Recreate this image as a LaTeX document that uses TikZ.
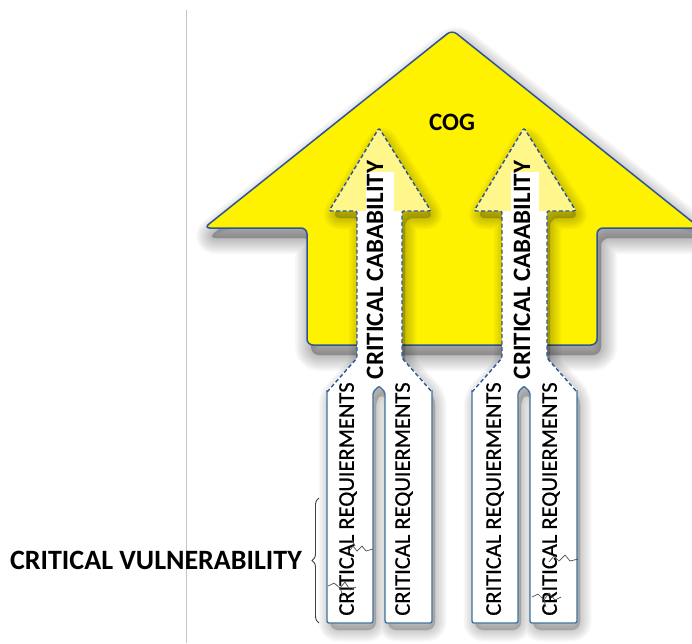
\documentclass[tikz,border=0pt]{standalone}
\usepackage{fontspec}
\setmainfont{Carlito}
\newfontfamily\reqfont[FakeBold=0.6]{Carlito}
\usetikzlibrary{shadows,decorations.pathreplacing}
\definecolor{cogyellow}{HTML}{FFF200}
\definecolor{edgeblue}{HTML}{2F5496}
\definecolor{colblue}{HTML}{41719C}
\definecolor{headyellow}{HTML}{FFF68C}
\newcommand{\housepath}{(452,30) -- (700,228) -- (597,228) -- (597,345) -- (307,345) -- (307,228) -- (204,228) -- cycle}
\newcommand{\innerpath}{(379,128) -- (431,211) -- (402,211) -- (402,358) -- (432,390) -- (432,623) -- (385,623) -- (385,392) -- (379,386) -- (373,392) -- (373,623) -- (327,623) -- (327,390) -- (357,358) -- (357,211) -- (329,211) -- cycle}
\tikzset{
  house/.style={draw=edgeblue, line width=1.5pt, fill=cogyellow, rounded corners=6pt},
  blurlayer/.style={fill=black, draw=black, line width=#1, opacity=0.026, rounded corners=8pt, line join=round},
  dashedge/.style={draw=edgeblue, line width=1.4pt, dash pattern=on 4pt off 2.5pt},
  coledge/.style={draw=colblue, line width=1.4pt},
  capatext/.style={rotate=90, font=\bfseries\fontsize{25}{28}\selectfont, inner sep=0pt},
  reqtext/.style={rotate=90, font=\reqfont\fontsize{22.5}{26}\selectfont, inner sep=0pt},
  crack/.style={draw=black!70, line width=0.7pt},
}
\begin{document}
\begin{tikzpicture}[x=1pt,y=-1pt]
\useasboundingbox (0,0) rectangle (692,643);
\clip (0,0) rectangle (692,643);
\draw[gray!45, line width=0.9pt] (186,10) -- (186,643);
% soft shadow of the house
\begin{scope}[shift={(4pt,-10pt)}]
  \foreach \w in {2,5,...,32}{ \path[blurlayer=\w pt] \housepath; }
\end{scope}
% house arrow
\path[house] \housepath;
\node (cog) at (452,122) {\bfseries\fontsize{25}{30}\selectfont COG};
% two inner arrows
\foreach \dx in {0,145}{
\begin{scope}[xshift=\dx pt]
  \begin{scope}[shift={(3pt,-7pt)}]
    \foreach \w in {2,5,...,23}{ \path[blurlayer=\w pt] \innerpath; }
  \end{scope}
  \fill[white] \innerpath;
  \fill[headyellow] (379,128) -- (431,211) -- (329,211) -- cycle;
  \fill[white] (366,172) rectangle (394,215);
  \path[dashedge, rounded corners=2pt] (327,392) -- (357,358) -- (357,211) -- (329,211) -- (379,128) -- (431,211) -- (402,211) -- (402,358) -- (432,392);
  \path[coledge, rounded corners=2pt] (327,390) -- (327,623) -- (373,623) -- (373,392) -- (379,386) -- (385,392) -- (385,623) -- (432,623) -- (432,390);
\end{scope}
}
\node[capatext] (capa) at (375,270) {CRITICAL CABABILITY};
\node[capatext] (capb) at (522,270) {CRITICAL CABABILITY};
\node[reqtext] (req1) at (348,499) {CRITICAL REQUIERMENTS};
\node[reqtext] (req2) at (404,499) {CRITICAL REQUIERMENTS};
\node[reqtext] (req3) at (495,499) {CRITICAL REQUIERMENTS};
\node[reqtext] (req4) at (551,499) {CRITICAL REQUIERMENTS};
% cracks
\path[crack] (348,553) -- (353,546) -- (357,551) -- (362,546) -- (366,551) -- (373,549);
\path[crack] (355,546) -- (352,540);
\path[crack] (328,586) -- (334,583) -- (340,588) -- (345,582) -- (350,590) -- (356,587);
\path[crack] (340,588) -- (343,596);
\path[crack] (549,562) -- (554,556) -- (559,561) -- (565,555) -- (570,561) -- (578,559);
\path[crack] (532,597) -- (538,594) -- (544,600) -- (549,593) -- (555,600) -- (561,597);
\path[crack] (544,600) -- (546,607);
% critical vulnerability
\node[anchor=east, inner sep=0pt] (vuln) at (302,560) {\bfseries\fontsize{28}{32}\selectfont CRITICAL VULNERABILITY};
\coordinate (bbot) at (319,623);
\coordinate (btop) at (319,498);
\draw[black!75, line width=0.9pt, decorate, decoration={brace, amplitude=7pt}] (bbot) -- (btop);
\end{tikzpicture}
\end{document}
